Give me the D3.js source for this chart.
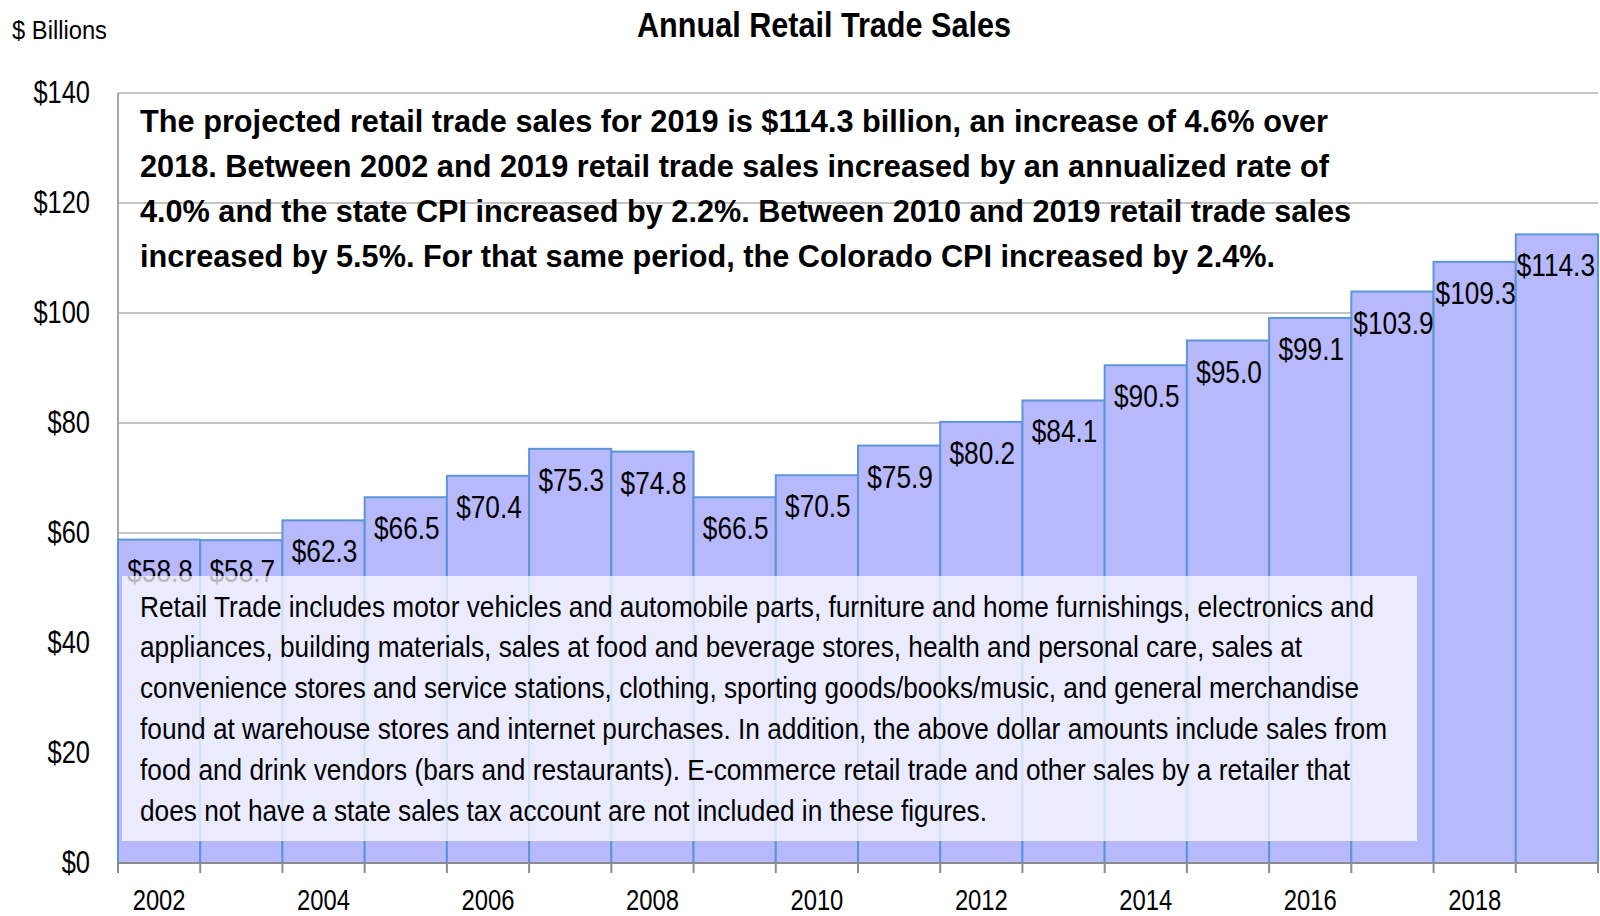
<!DOCTYPE html>
<html>
<head>
<meta charset="utf-8">
<script src="https://cdn.jsdelivr.net/npm/d3@7"></script>
<style>
  html, body { margin: 0; padding: 0; background: #ffffff; }
  svg { display: block; }
  text { font-family: "Liberation Sans", Arial, sans-serif; fill: #000; }
</style>
</head>
<body>
<svg id="chart" width="1600" height="916"></svg>
<script>
// Annual retail trade sales, $ billions (2019 projected)
const years = [2002, 2003, 2004, 2005, 2006, 2007, 2008, 2009, 2010,
               2011, 2012, 2013, 2014, 2015, 2016, 2017, 2018, 2019];
const sales = [58.8, 58.7, 62.3, 66.5, 70.4, 75.3, 74.8, 66.5, 70.5,
               75.9, 80.2, 84.1, 90.5, 95.0, 99.1, 103.9, 109.3, 114.3];
const yTicks = [0, 20, 40, 60, 80, 100, 120, 140];
const xLabelYears = [2002, 2004, 2006, 2008, 2010, 2012, 2014, 2016, 2018];

const titleText = "Annual Retail Trade Sales";
const unitText = "$ Billions";

const summaryLines = [
  "The projected retail trade sales for 2019 is $114.3 billion, an increase of 4.6% over",
  "2018. Between 2002 and 2019 retail trade sales increased by an annualized rate of",
  "4.0% and the state CPI increased by 2.2%. Between 2010 and 2019 retail trade sales",
  "increased by 5.5%. For that same period, the Colorado CPI increased by 2.4%."
];
const summaryWidths = [1188, 1189, 1211, 1135];

const noteLines = [
  "Retail Trade includes motor vehicles and automobile parts, furniture and home furnishings, electronics and",
  "appliances, building materials, sales at food and beverage stores, health and personal care, sales at",
  "convenience stores and service stations, clothing, sporting goods/books/music, and general merchandise",
  "found at warehouse stores and internet purchases. In addition, the above dollar amounts include sales from",
  "food and drink vendors (bars and restaurants). E-commerce retail trade and other sales by a retailer that",
  "does not have a state sales tax account are not included in these figures."
];
const noteWidths = [1234, 1162, 1219, 1247, 1210, 847];

// Condensed look: squeeze the regular sans face horizontally
const NARROW = 0.82;
function narrow(selection) {
  selection.each(function () {
    const w = this.getComputedTextLength();
    d3.select(this)
      .attr("textLength", w * NARROW)
      .attr("lengthAdjust", "spacingAndGlyphs");
  });
}

const svg = d3.select("#chart");
const plot = { left: 118, right: 1598, top: 93, bottom: 863 };

const x = d3.scaleBand().domain(years).range([plot.left, plot.right]).padding(0);
const y = d3.scaleLinear().domain([0, 140]).range([plot.bottom, plot.top]);

// Horizontal gridlines
svg.append("g")
  .selectAll("line")
  .data(yTicks.filter(d => d > 0))
  .join("line")
  .attr("x1", plot.left).attr("x2", plot.right)
  .attr("y1", d => y(d)).attr("y2", d => y(d))
  .attr("stroke", "#c3c3c3").attr("stroke-width", 2);

// Left axis line
svg.append("line")
  .attr("x1", plot.left).attr("x2", plot.left)
  .attr("y1", y(140)).attr("y2", y(0))
  .attr("stroke", "#a6a6a6").attr("stroke-width", 2);

// Bars
svg.append("g")
  .selectAll("rect")
  .data(years)
  .join("rect")
  .attr("x", d => x(d))
  .attr("y", (d, i) => y(sales[i]))
  .attr("width", x.bandwidth())
  .attr("height", (d, i) => y(0) - y(sales[i]))
  .attr("fill", "#b8b8fd")
  .attr("stroke", "#5b96d8")
  .attr("stroke-width", 2);

// Value labels inside the top of each bar, kept within the plot's right edge
svg.append("g")
  .selectAll("text")
  .data(years)
  .join("text")
  .attr("x", d => x(d) + x.bandwidth() / 2 + 1)
  .attr("y", (d, i) => y(sales[i]) + 42)
  .attr("text-anchor", "middle")
  .attr("font-size", 32)
  .text((d, i) => "$" + sales[i].toFixed(1))
  .call(narrow)
  .each(function () {
    const half = +this.getAttribute("textLength") / 2;
    const cx = +this.getAttribute("x");
    if (cx + half > plot.right - 3) this.setAttribute("x", plot.right - 3 - half);
  });

// Y axis labels
const yAxis = d3.axisLeft(y)
  .tickValues(yTicks)
  .tickFormat(d => "$" + d)
  .tickSize(0)
  .tickPadding(28);
const gy = svg.append("g").attr("transform", `translate(${plot.left},0)`).call(yAxis);
gy.select(".domain").remove();
gy.selectAll("text")
  .attr("font-size", 31)
  .attr("font-family", null)
  .attr("fill", "#000")
  .call(narrow);

// X axis baseline and boundary ticks
svg.append("line")
  .attr("x1", plot.left).attr("x2", plot.right)
  .attr("y1", y(0)).attr("y2", y(0))
  .attr("stroke", "#8c8c8c").attr("stroke-width", 2);
const boundaries = years.map(d => x(d)).concat([x(years[years.length - 1]) + x.bandwidth()]);
svg.append("g")
  .selectAll("line")
  .data(boundaries)
  .join("line")
  .attr("x1", d => d).attr("x2", d => d)
  .attr("y1", y(0)).attr("y2", y(0) + 10)
  .attr("stroke", "#8c8c8c").attr("stroke-width", 2);

const xAxis = d3.axisBottom(x)
  .tickValues(xLabelYears)
  .tickSize(0)
  .tickPadding(26);
const gx = svg.append("g").attr("transform", `translate(0,${plot.bottom})`).call(xAxis);
gx.select(".domain").remove();
gx.selectAll("text")
  .attr("font-size", 29)
  .attr("font-family", null)
  .attr("fill", "#000")
  .call(narrow);

// Explanatory note box, semi-transparent over the bars
svg.append("rect")
  .attr("x", 122).attr("y", 576)
  .attr("width", 1295).attr("height", 265)
  .attr("fill", "#ffffff").attr("fill-opacity", 0.72);

svg.append("g")
  .selectAll("text")
  .data(noteLines)
  .join("text")
  .attr("x", 140)
  .attr("y", (d, i) => 616.5 + i * 40.9)
  .attr("font-size", 30)
  .attr("textLength", (d, i) => noteWidths[i])
  .attr("lengthAdjust", "spacingAndGlyphs")
  .text(d => d);

// Summary paragraph
svg.append("g")
  .selectAll("text")
  .data(summaryLines)
  .join("text")
  .attr("x", 140)
  .attr("y", (d, i) => 132 + i * 45)
  .attr("font-size", 32)
  .attr("font-weight", "bold")
  .attr("textLength", (d, i) => summaryWidths[i])
  .attr("lengthAdjust", "spacingAndGlyphs")
  .text(d => d);

// Title and unit label
svg.append("text")
  .attr("x", 824).attr("y", 37)
  .attr("text-anchor", "middle")
  .attr("font-size", 35)
  .attr("font-weight", "bold")
  .attr("textLength", 374)
  .attr("lengthAdjust", "spacingAndGlyphs")
  .text(titleText);

svg.append("text")
  .attr("x", 12).attr("y", 39)
  .attr("font-size", 25)
  .attr("textLength", 95)
  .attr("lengthAdjust", "spacingAndGlyphs")
  .text(unitText);
</script>
</body>
</html>
